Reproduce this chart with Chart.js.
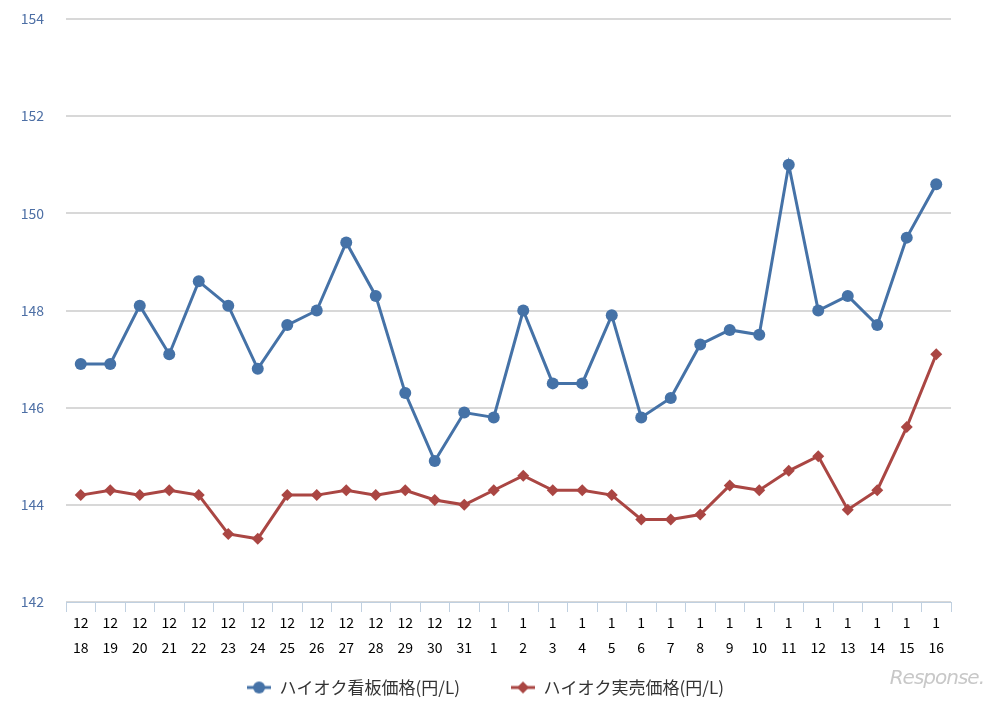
<!DOCTYPE html>
<html>
<head>
<meta charset="utf-8">
<script src="https://cdn.jsdelivr.net/npm/chart.js@4/dist/chart.umd.min.js"></script>
<style>
  body { margin: 0; background: #fff; }
  #wrap { position: relative; width: 998px; height: 701px; }
  #logo { position: absolute; right: 14px; bottom: 12px; font: italic 20px "DejaVu Sans", sans-serif; color: #c8c8c8; letter-spacing: -1px; }
</style>
</head>
<body>
<div id="wrap">
  <canvas id="chart" width="998" height="701"></canvas>
  <div id="logo">Response.</div>
</div>
<script>
// données
const months = ['12','12','12','12','12','12','12','12','12','12','12','12','12','12',
                '1','1','1','1','1','1','1','1','1','1','1','1','1','1','1','1'];
const days = ['18','19','20','21','22','23','24','25','26','27','28','29','30','31',
              '1','2','3','4','5','6','7','8','9','10','11','12','13','14','15','16'];
const kanban = [146.9, 146.9, 148.1, 147.1, 148.6, 148.1, 146.8, 147.7, 148.0, 149.4, 148.3, 146.3, 144.9, 145.9,
                145.8, 148.0, 146.5, 146.5, 147.9, 145.8, 146.2, 147.3, 147.6, 147.5, 151.0, 148.0, 148.3, 147.7, 149.5, 150.6];
const jitsubai = [144.2, 144.3, 144.2, 144.3, 144.2, 143.4, 143.3, 144.2, 144.2, 144.3, 144.2, 144.3, 144.1, 144.0,
                  144.3, 144.6, 144.3, 144.3, 144.2, 143.7, 143.7, 143.8, 144.4, 144.3, 144.7, 145.0, 143.9, 144.3, 145.6, 147.1];
const yTicks = [142, 144, 146, 148, 150, 152, 154];
const seriesNames = ['ハイオク看板価格(円/L)', 'ハイオク実売価格(円/L)'];

const labels = months.map((m, i) => [m, days[i]]);

// petite icône ligne + marqueur pour la légende
function legendIcon(color, shape) {
  const c = document.createElement('canvas');
  c.width = 24; c.height = 14;
  const ctx = c.getContext('2d');
  ctx.strokeStyle = color; ctx.lineWidth = 3;
  ctx.beginPath(); ctx.moveTo(0, 7); ctx.lineTo(24, 7); ctx.stroke();
  ctx.fillStyle = color;
  ctx.beginPath();
  if (shape === 'circle') {
    ctx.arc(12, 7, 6, 0, Math.PI * 2);
  } else {
    ctx.moveTo(12, 1); ctx.lineTo(18, 7); ctx.lineTo(12, 13); ctx.lineTo(6, 7); ctx.closePath();
  }
  ctx.fill();
  return c;
}

const blue = '#4572A7';
const red = '#AA4643';
const tickFont = { family: '"Noto Sans CJK JP", "DejaVu Sans", sans-serif', size: 14 };

// décale la légende vers le bas
const legendShift = {
  id: 'legendShift',
  afterLayout(chart) {
    chart.legend.top += 5;
    chart.legend.bottom += 5;
  }
};

new Chart(document.getElementById('chart'), {
  type: 'line',
  data: {
    labels: labels,
    datasets: [{
      label: seriesNames[0],
      data: kanban,
      borderColor: blue,
      backgroundColor: blue,
      borderWidth: 3,
      pointStyle: 'circle',
      pointRadius: 6,
      pointBorderWidth: 0,
      tension: 0
    }, {
      label: seriesNames[1],
      data: jitsubai,
      borderColor: red,
      backgroundColor: red,
      borderWidth: 3,
      pointStyle: 'rectRot',
      pointRadius: 6,
      pointBorderWidth: 0,
      tension: 0
    }]
  },
  options: {
    responsive: false,
    animation: false,
    layout: { padding: { top: 19, right: 47, left: 20, bottom: 0 } },
    plugins: {
      tooltip: { enabled: false },
      legend: {
        position: 'bottom',
        labels: {
          usePointStyle: true,
          pointStyleWidth: 24,
          boxHeight: 14,
          padding: 17,
          color: '#333',
          font: { family: '"Noto Sans CJK JP", sans-serif', size: 17 },
          generateLabels: function(chart) {
            return chart.data.datasets.map((ds, i) => ({
              // espaces pour écarter les deux entrées
              text: i === 0 ? ds.label + '\u3000\u3000' : ds.label,
              fillStyle: ds.borderColor,
              strokeStyle: ds.borderColor,
              lineWidth: 0,
              pointStyle: legendIcon(ds.borderColor, i === 0 ? 'circle' : 'diamond'),
              datasetIndex: i,
              fontColor: '#333'
            }));
          }
        }
      }
    },
    scales: {
      x: {
        offset: true,
        afterFit: function(scale) { scale.height = 55; },
        border: { display: true, color: '#C0D0E0', width: 1 },
        grid: { display: true, offset: true, drawOnChartArea: false, drawTicks: true, tickLength: 10, color: '#C0D0E0' },
        ticks: { color: '#000', font: Object.assign({ lineHeight: 1.78 }, tickFont), maxRotation: 0, autoSkip: false, padding: -2 }
      },
      y: {
        min: yTicks[0],
        max: yTicks[yTicks.length - 1],
        afterBuildTicks: function(scale) { scale.ticks = yTicks.map(v => ({ value: v })); },
        afterFit: function(scale) {
          scale.width = 46;
          scale.paddingTop = 0;
          scale.paddingBottom = 0;
        },
        border: { display: false },
        grid: { color: '#D8D8D8', lineWidth: 2, drawTicks: false },
        ticks: { color: '#4d6fa5', font: tickFont, padding: 22 }
      }
    }
  },
  plugins: [legendShift]
});
</script>
</body>
</html>
